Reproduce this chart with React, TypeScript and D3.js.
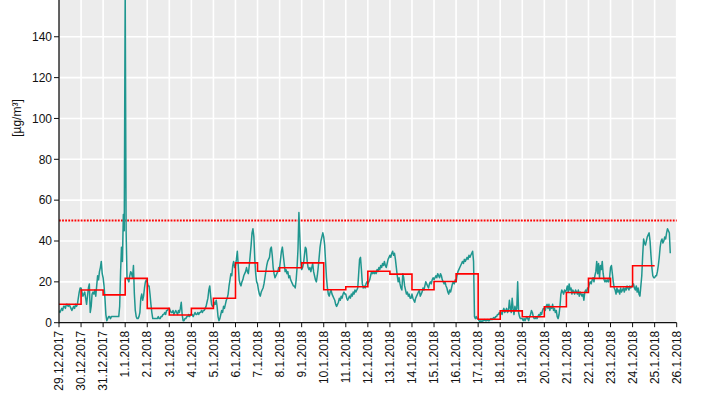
import React from 'react';
import * as d3 from 'd3';

const DAY_MS = 86400000;
const HOUR_MS = 3600000;
const startDate = new Date(Date.UTC(2017, 11, 29));
const endDate = new Date(Date.UTC(2018, 0, 26));

const yTickValues = [0, 20, 40, 60, 80, 100, 120, 140];
const limitValue = 50;
const yAxisTitle = '[µg/m³]';

// daily means, one per day starting 29.12.2017
const dailyMeans = [
  9, 16, 13.6, 21.7, 7, 3.8, 7, 12, 29.3, 25.2, 26.9, 29.3, 16.1, 17.6,
  25.2, 23.8, 16.1, 20.2, 23.9, 1.7, 5.8, 2.9, 7.8, 14.8, 21.7, 17.6, 27.9,
];

// hourly values starting 29.12.2017 00:00
const hourlyValues = [
  // 29.12
  6, 5, 6, 7, 6, 8, 8, 7, 9, 9, 8, 9, 8, 7, 6, 7, 8, 7, 9, 8, 9, 12, 15, 17,
  // 30.12
  17, 15, 13, 14, 15, 12, 9, 13, 17, 19, 5, 8, 14, 15, 14, 16, 13, 18, 23, 21, 25, 27, 30, 24,
  // 31.12
  22, 18, 12, 4, 1, 2, 3, 3, 2, 3, 3, 3, 3, 3, 3, 3, 3, 3, 8, 25, 37, 30, 53, 45,
  // 1.1
  165, 45, 22, 21, 20, 23, 25, 24, 22, 28, 14, 6, 3, 2, 2, 3, 5, 12, 14, 11, 13, 17, 20, 21,
  // 2.1
  20, 18, 18, 14, 9, 5, 2, 2, 2, 2, 2, 2, 3, 2, 2, 3, 3, 4, 4, 5, 4, 6, 6, 7,
  // 3.1
  7, 6, 5, 5, 6, 4, 5, 6, 5, 4, 6, 5, 7, 10, 4, 1, 1, 2, 2, 3, 3, 4, 3, 4,
  // 4.1
  4, 4, 3, 4, 5, 4, 4, 5, 4, 5, 5, 6, 5, 6, 6, 7, 8, 10, 12, 16, 18, 13, 9, 8,
  // 5.1
  8, 10, 9, 11, 8, 3, 1, 2, 4, 6, 5, 8, 7, 9, 11, 12, 14, 18, 21, 24, 23, 28, 30, 27,
  // 6.1
  28, 31, 35, 28, 21, 19, 18, 20, 21, 23, 24, 25, 27, 25, 24, 28, 33, 38, 44, 46, 42, 31, 24, 20,
  // 7.1
  19, 16, 14, 13, 15, 16, 17, 19, 22, 25, 28, 30, 31, 32, 36, 37, 33, 27, 24, 22, 23, 24, 25, 27,
  // 8.1
  27, 31, 35, 37, 33, 29, 25, 26, 24, 25, 22, 23, 21, 20, 19, 18, 18, 17, 21, 27, 36, 54, 42, 30,
  // 9.1
  26, 27, 29, 33, 37, 36, 30, 27, 26, 27, 25, 27, 29, 25, 23, 21, 20, 23, 27, 32, 37, 40, 42, 44,
  // 10.1
  42, 38, 30, 22, 17, 14, 13, 15, 16, 14, 13, 12, 11, 9, 8, 9, 10, 12, 11, 13, 12, 14, 15, 14,
  // 11.1
  14, 12, 11, 12, 13, 12, 14, 13, 15, 14, 16, 15, 16, 17, 24, 31, 32, 26, 19, 17, 18, 17, 19, 20,
  // 12.1
  19, 20, 21, 23, 25, 24, 25, 24, 25, 24, 26, 25, 27, 26, 28, 27, 29, 28, 30, 28, 27, 29, 31, 32,
  // 13.1
  33, 32, 34, 35, 33, 34, 31, 27, 23, 20, 22, 19, 17, 16, 24, 22, 18, 16, 14, 15, 13, 14, 12, 12,
  // 14.1
  14, 12, 11, 10, 12, 13, 14, 15, 16, 13, 14, 15, 17, 16, 18, 20, 19, 18, 17, 19, 20, 19, 21, 22,
  // 15.1
  21, 22, 23, 22, 24, 23, 22, 24, 23, 21, 20, 19, 20, 18, 17, 15, 14, 16, 15, 17, 19, 20, 19, 21,
  // 16.1
  20, 23, 25, 26, 27, 28, 29, 30, 29, 31, 30, 31, 32, 31, 33, 32, 33, 34, 35, 30, 3, 2, 3, 2,
  // 17.1
  2, 1, 0.5, 1, 0.5, 1, 1, 1.5, 1, 1, 1.5, 1, 1, 1.5, 2, 1.5, 2, 2.5, 2, 3, 3, 4, 4, 5,
  // 18.1
  4, 5, 4, 6, 7, 5, 6, 7, 5, 6, 11, 7, 5, 12, 7, 4, 8, 6, 7, 20, 5, 3, 2, 2,
  // 19.1
  2, 1, 2, 1, 2, 3, 2, 1, 3, 4, 6, 5, 3, 2, 2, 3, 2, 3, 4, 3, 5, 4, 6, 7,
  // 20.1
  7, 6, 8, 9, 7, 9, 6, 8, 7, 9, 6, 7, 5, 6, 3, 2, 4, 8, 14, 16, 15, 14, 16, 15,
  // 21.1
  16, 18, 15, 19, 16, 17, 14, 16, 15, 14, 16, 15, 14, 16, 13, 15, 14, 13, 14, 11, 15, 16, 15, 17,
  // 22.1
  17, 19, 20, 19, 21, 22, 20, 23, 25, 30, 24, 29, 22, 28, 26, 30, 24, 21, 20, 21, 20, 21, 20, 22,
  // 23.1
  27, 28, 24, 20, 17, 16, 14, 17, 15, 16, 14, 17, 15, 16, 17, 15, 17, 16, 18, 17, 16, 18, 17, 18,
  // 24.1
  18, 19, 17, 16, 18, 15, 17, 14, 13, 18, 23, 33, 41, 39, 38, 40, 42, 43, 44, 40, 33, 27, 23, 22,
  // 25.1
  22, 23, 23, 25, 28, 32, 37, 40, 41, 39, 40, 42, 41, 44, 46, 45, 44, 34,
];

const FONT = 'Liberation Sans, Arial, sans-serif';

export default function App() {
  const W = 708;
  const H = 397;
  const left = 59;
  const right = 676.7;
  const top = 0;
  const bottom = 322.7;

  const x = d3.scaleUtc().domain([startDate, endDate]).range([left, right]);
  const y = d3.scaleLinear().domain([0, 158]).range([bottom, top]);

  const dayTicks = d3.utcDay.range(startDate, new Date(endDate.getTime() + 1));
  const fmt = d3.utcFormat('%-d.%-m.%Y');

  const hourly = hourlyValues.map((v, i) => ({ t: new Date(startDate.getTime() + i * HOUR_MS), v }));
  const teal = d3
    .line<{ t: Date; v: number }>()
    .x((d) => x(d.t))
    .y((d) => y(d.v))(hourly) as string;

  const stepPts = dailyMeans.map((v, i) => ({ t: new Date(startDate.getTime() + i * DAY_MS), v }));
  stepPts.push({ t: new Date(startDate.getTime() + dailyMeans.length * DAY_MS), v: dailyMeans[dailyMeans.length - 1] });
  const step = d3
    .line<{ t: Date; v: number }>()
    .curve(d3.curveStepAfter)
    .x((d) => x(d.t))
    .y((d) => y(d.v))(stepPts) as string;

  return (
    <svg
      width={W}
      height={H}
      style={{ position: 'absolute', left: 0, top: 0, background: '#fff' }}
      fontFamily={FONT}
    >
      <defs>
        <clipPath id="plotclip">
          <rect x={left} y={top} width={right - left} height={bottom - top} />
        </clipPath>
      </defs>
      <rect x={left} y={top} width={right - left} height={bottom - top} fill="#ececec" />
      {yTickValues.slice(1).map((t) => (
        <line key={'gy' + t} x1={left} x2={right} y1={y(t)} y2={y(t)} stroke="#fff" strokeWidth={1.6} />
      ))}
      {dayTicks.map((d, i) =>
        i === 0 ? null : (
          <line key={'gx' + i} x1={x(d)} x2={x(d)} y1={top} y2={bottom} stroke="#fff" strokeWidth={1.6} />
        )
      )}
      <line
        x1={left}
        x2={right}
        y1={y(limitValue)}
        y2={y(limitValue)}
        stroke="#ff0000"
        strokeWidth={2}
        strokeDasharray="1.8 1.3"
      />
      <g clipPath="url(#plotclip)">
        <path d={teal} fill="none" stroke="#1f968f" strokeWidth={1.5} strokeLinejoin="round" />
      </g>
      <path d={step} fill="none" stroke="#ff0000" strokeWidth={1.6} />
      {/* axes */}
      <line x1={left} x2={left} y1={top} y2={bottom + 0.5} stroke="#111" strokeWidth={1.3} />
      <line x1={left} x2={right} y1={bottom} y2={bottom} stroke="#111" strokeWidth={1.3} />
      {yTickValues.map((t) => (
        <g key={'yt' + t}>
          <line x1={left - 5} x2={left} y1={y(t)} y2={y(t)} stroke="#111" strokeWidth={1} />
          <text x={left - 7} y={y(t)} dy="0.35em" textAnchor="end" fontSize={12} fill="#111">
            {t}
          </text>
        </g>
      ))}
      {dayTicks.map((d, i) => (
        <g key={'xt' + i}>
          <line x1={x(d)} x2={x(d)} y1={bottom} y2={bottom + 4.5} stroke="#111" strokeWidth={1} />
          <text
            transform={`translate(${x(d)},${bottom + 8}) rotate(-90)`}
            dy="0.35em"
            textAnchor="end"
            fontSize={12}
            fill="#111"
          >
            {fmt(d)}
          </text>
        </g>
      ))}
      <text transform="translate(17,118) rotate(-90)" dy="0.35em" textAnchor="middle" fontSize={12} fill="#111">
        {yAxisTitle}
      </text>
    </svg>
  );
}
